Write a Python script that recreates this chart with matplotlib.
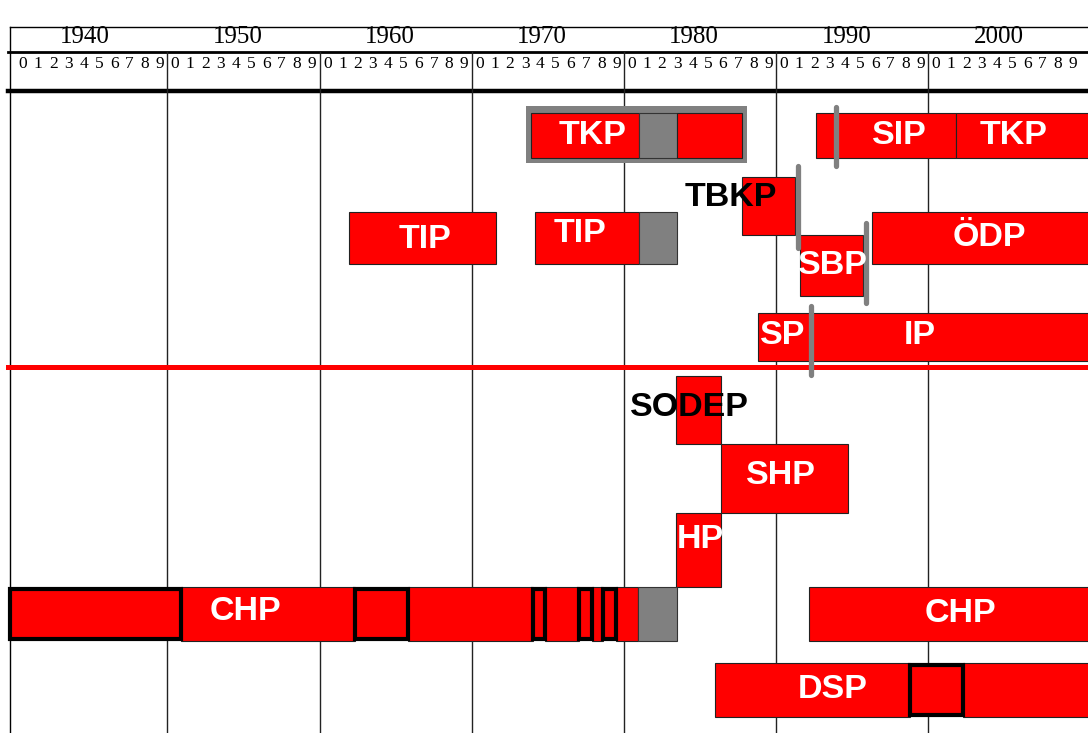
import matplotlib
matplotlib.use("Agg")
import matplotlib.pyplot as plt
from matplotlib.patches import Rectangle

# decades shown in the header
decades = [1940, 1950, 1960, 1970, 1980, 1990, 2000]

# party segments: row, start year, end year, status
# status: open = active, closed = banned (gray), term = boxed period
seg_row = [0, 0, 0, 0, 0,
           1,
           2, 2, 2, 2,
           3,
           4, 4,
           5, 6, 7,
           8, 8, 8, 8, 8, 8, 8, 8, 8, 8, 8, 8,
           9, 9, 9]
seg_start = [1973.9, 1981.0, 1983.5, 1992.6, 2001.8,
             1987.75,
             1961.9, 1974.15, 1981.0, 1996.3,
             1991.55,
             1988.8, 1992.3,
             1983.4, 1986.4, 1983.4,
             1939.65, 1950.9, 1962.3, 1965.8, 1974.0, 1974.8, 1977.05, 1977.9, 1978.6, 1979.5, 1980.9, 1992.15,
             1986.0, 1998.8, 2002.3]
seg_end = [1981.0, 1983.5, 1987.75, 2001.8, 2012.0,
           1991.25,
           1971.6, 1981.0, 1983.5, 2012.0,
           1995.7,
           1992.3, 2012.0,
           1986.4, 1994.7, 1986.4,
           1950.9, 1962.3, 1965.8, 1974.0, 1974.8, 1977.05, 1977.9, 1978.6, 1979.5, 1980.9, 1983.5, 2012.0,
           1998.8, 2002.3, 2012.0]
seg_status = ["open", "closed", "open", "open", "open",
              "open",
              "open", "open", "closed", "open",
              "open",
              "open", "open",
              "open", "open", "open",
              "term", "open", "term", "open", "term", "open", "term", "open", "term", "open", "closed", "open",
              "open", "term", "open"]

# TKP underground period frame
tkp_frame = (1973.55, 1988.1)

# mergers / transitions (gray markers)
merge_year = [1993.95, 1991.4, 1995.9, 1992.3]

# labels
label_text = ["TKP", "SIP", "TKP", "TBKP", "TIP", "TIP", "ÖDP", "SBP", "SP", "IP",
              "SODEP", "SHP", "HP", "CHP", "CHP", "DSP"]
label_year = [1977.9, 1998.1, 2005.6, 1987.0, 1966.9, 1977.1, 2004.0, 1993.7, 1990.4, 1999.4,
              1984.3, 1990.3, 1985.0, 1955.1, 2002.1, 1993.7]

# ---- layout (pixel rows, y grows downward) ----
row_top = [113, 177, 212, 235, 313, 376, 444, 513, 587, 663]
row_bot = [158, 235, 264, 296, 361, 444, 513, 587, 641, 717]
merge_span = [(107, 166), (166, 248), (223, 303), (306, 375)]
label_y = [135, 135, 135, 198, 240, 234, 237, 265, 336, 336, 407, 476, 540, 612, 613, 690]
label_dark = ["TBKP", "SODEP"]

RED = "#ff0000"
GRAY = "#808080"

fig = plt.figure(figsize=(10.88, 7.33), dpi=100)
ax = fig.add_axes([0, 0, 1, 1])
ax.set_xlim(1939.0, 2010.48)
ax.set_ylim(733, 0)
ax.axis("off")

left = 1939.65
right = 2012

# header frame
ax.plot([left, right], [27, 27], color="black", lw=1.0, zorder=1)
ax.plot([left, left], [27, 733], color="black", lw=1.0, zorder=1)
ax.plot([1939.5, right], [52, 52], color="black", lw=2.0, zorder=1)
ax.plot([1939.5, right], [91, 91], color="black", lw=3.2, zorder=1)
for d in decades[1:]:
    ax.plot([d, d], [52, 733], color="#222222", lw=1.0, zorder=1)
for d in decades:
    ax.text(d + 4.6, 37, str(d), ha="center", va="center",
            family="Liberation Serif", fontsize=18, color="black")
    for k in range(10):
        ax.text(d + k + 0.5, 64, str(k), ha="center", va="center",
                family="Liberation Serif", fontsize=12.5, color="black")

# red separator between communist/socialist and social-democrat parties
ax.plot([1939.5, right], [367, 367], color=RED, lw=3.6, zorder=2)

# TKP frame
ax.add_patch(Rectangle((tkp_frame[0], 106), tkp_frame[1] - tkp_frame[0], 57,
                       facecolor=GRAY, edgecolor="none", zorder=3))

# segments
for r, s, e, st in zip(seg_row, seg_start, seg_end, seg_status):
    top, bot = row_top[r], row_bot[r]
    if st == "closed":
        ax.add_patch(Rectangle((s, top), e - s, bot - top, facecolor=GRAY,
                               edgecolor="#333333", lw=0.8, zorder=4))
    elif st == "term":
        ax.add_patch(Rectangle((s, top + 2), e - s, bot - top - 4, facecolor=RED,
                               edgecolor="black", lw=3.0, zorder=5))
    else:
        ax.add_patch(Rectangle((s, top), e - s, bot - top, facecolor=RED,
                               edgecolor="#222222", lw=0.8, zorder=4))

# merger markers
for yr, (y0, y1) in zip(merge_year, merge_span):
    ax.plot([yr, yr], [y0, y1], color=GRAY, lw=3.8, solid_capstyle="round", zorder=6)

# labels
for t, x, y in zip(label_text, label_year, label_y):
    col = "black" if t in label_dark else "white"
    ax.text(x, y, t, ha="center", va="center", family="Liberation Sans",
            fontweight="bold", fontsize=24.5, color=col, zorder=7)

fig.savefig("out.png", dpi=100)
